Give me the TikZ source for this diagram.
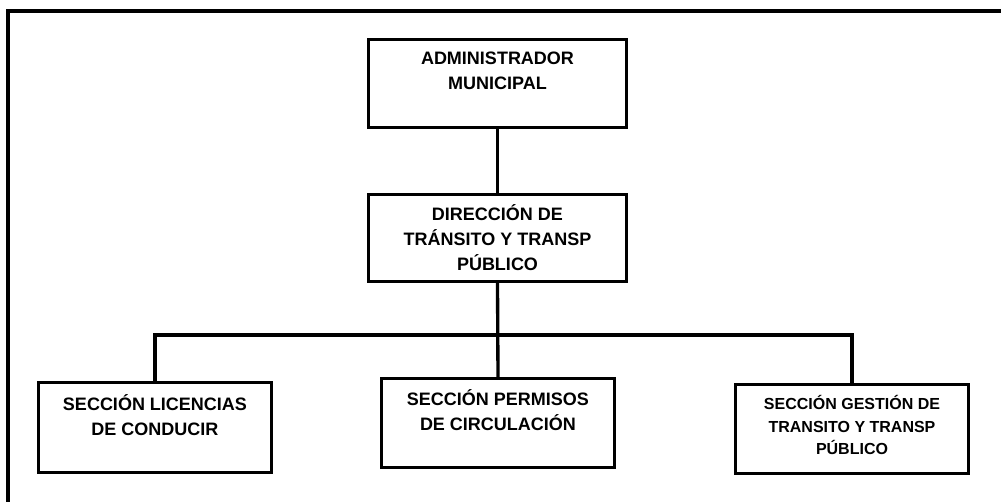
\documentclass[tikz,border=0pt]{standalone}
\usepackage{fontspec}
\setmainfont{Liberation Sans}
\tikzset{
  orgbox/.style={draw=black, line width=2.25pt, fill=white, align=center, inner sep=0pt,
    font=\bfseries\fontsize{13.5pt}{18.75pt}\selectfont},
  smallbox/.style={orgbox, font=\bfseries\fontsize{12pt}{16.9pt}\selectfont},
  link/.style={draw=black, line width=2.5pt},
  frame/.style={draw=black, line width=3pt}
}
\begin{document}
\begin{tikzpicture}[x=0.75pt, y=-0.75pt]
\useasboundingbox (0,0) rectangle (1001,502);
\fill[white] (0,0) rectangle (1001,502);
\draw[frame] (8,503) -- (8,11) -- (1003,11);

\node[orgbox, minimum width=193.5pt, minimum height=66pt] (adm) at (497.5,83.5)
  {ADMINISTRADOR\\MUNICIPAL\\~};
\node[orgbox, minimum width=193.5pt, minimum height=65.25pt] (dir) at (497.5,238)
  {DIRECCIÓN DE\\TRÁNSITO Y TRANSP\\PÚBLICO};
\node[orgbox, minimum width=174.75pt, minimum height=67.5pt] (lic) at (155,427.5)
  {SECCIÓN LICENCIAS\\DE CONDUCIR\\~};
\node[orgbox, minimum width=174.75pt, minimum height=66.75pt] (per) at (498,423)
  {SECCIÓN PERMISOS\\DE CIRCULACIÓN\\~};
\node[smallbox, minimum width=174.75pt, minimum height=66.75pt, text depth=6pt] (ges) at (852,429)
  {SECCIÓN GESTIÓN DE\\TRANSITO Y TRANSP\\PÚBLICO};

\coordinate (bar) at (498,335);
\draw[link] (adm.south) -- (dir.north);
\draw[link] (dir.south) -- (per.north);
\draw[link] (lic.north) -- (lic.north |- bar) -- (ges.north |- bar) -- (ges.north);
\end{tikzpicture}
\end{document}
